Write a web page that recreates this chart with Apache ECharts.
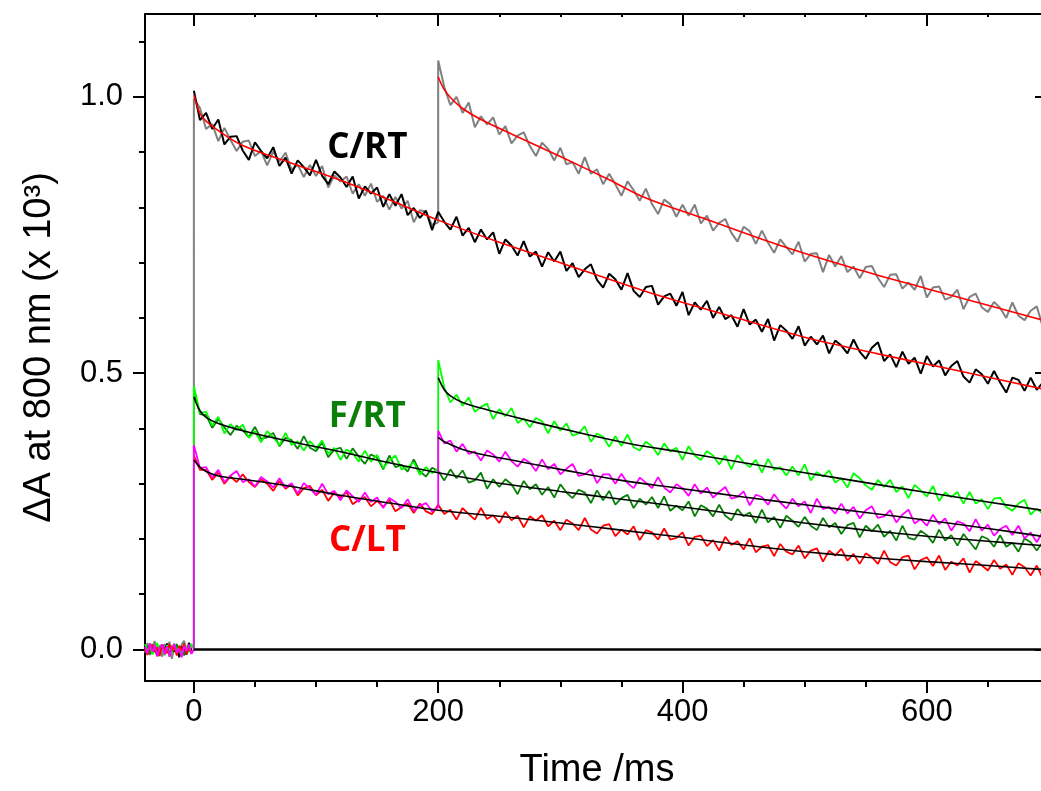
<!DOCTYPE html>
<html><head><meta charset="utf-8">
<script src="https://cdn.jsdelivr.net/npm/echarts@6/dist/echarts.min.js"></script>
<style>html,body{margin:0;padding:0;background:#fff}#chart{width:1041px;height:791px}</style>
</head><body><div id="chart"></div>
<script>
// sampling times (ms)
const time5 = [0,5,10,15,20,25,30,35,40,45,50,55,60,65,70,75,80,85,90,95,100,105,110,115,120,125,130,135,140,145,150,155,160,165,170,175,180,185,190,195,200,205,210,215,220,225,230,235,240,245,250,255,260,265,270,275,280,285,290,295,300,305,310,315,320,325,330,335,340,345,350,355,360,365,370,375,380,385,390,395,400,405,410,415,420,425,430,435,440,445,450,455,460,465,470,475,480,485,490,495,500,505,510,515,520,525,530,535,540,545,550,555,560,565,570,575,580,585,590,595,600,605,610,615,620,625,630,635,640,645,650,655,660,665,670,675,680,685,690,695,700];
const baseTime = [-40,-38,-36,-34,-32,-30,-28,-26,-24,-22,-20,-18,-16,-14,-12,-10,-8,-6,-4,-2];

// pre-flash baselines
const blackBase = [0.004,-0.008,0.010,-0.003,0.006,-0.012,0.002,0.009,-0.006,0.011,-0.010,0.003,-0.004,0.008,-0.014,0.005,0.001,-0.009,0.012,-0.002];
const grayBase = [-0.006,0.012,-0.010,0.004,0.015,-0.008,0.007,-0.013,0.010,-0.002,0.014,-0.017,0.006,0.003,-0.011,0.009,0.016,-0.005,0.008,-0.007];
const lgreenBase = [0.010,-0.004,0.007,-0.009,0.003,0.012,-0.006,0.005,-0.011,0.008,0.002,-0.007,0.011,-0.003,0.006,-0.010,0.009,0.004,-0.005,0.010];
const dgreenBase = [-0.003,0.006,-0.008,0.009,-0.001,-0.010,0.005,0.008,-0.006,0.002,-0.009,0.007,-0.002,0.010,-0.007,0.003,-0.011,0.006,0.001,-0.004];
const redBase = [0.002,-0.010,0.006,0.009,-0.005,0.004,-0.012,0.008,0.001,-0.007,0.010,-0.003,0.005,-0.011,0.007,-0.002,0.011,-0.008,0.003,-0.006];
const magentaBase = [0.005,-0.007,0.011,-0.004,0.008,-0.012,0.003,0.009,-0.009,0.006,-0.013,0.004,0.010,-0.006,0.002,-0.014,0.007,-0.003,0.009,-0.008];

// C/RT, single flash (black), 0..700 ms
const blackTrace = [1.011,0.958,0.971,0.942,0.959,0.914,0.928,0.929,0.903,0.886,
0.918,0.902,0.889,0.909,0.875,0.890,0.861,0.885,0.873,0.858,
0.886,0.857,0.842,0.865,0.854,0.837,0.856,0.816,0.838,0.825,
0.836,0.801,0.824,0.803,0.824,0.786,0.799,0.781,0.794,0.759,
0.792,0.774,0.760,0.783,0.749,0.763,0.737,0.760,0.742,0.755,
0.716,0.742,0.731,0.713,0.739,0.711,0.720,0.693,0.719,0.702,
0.720,0.685,0.699,0.674,0.688,0.697,0.669,0.655,0.680,0.670,
0.651,0.681,0.649,0.638,0.656,0.658,0.624,0.639,0.644,0.622,
0.647,0.605,0.628,0.615,0.631,0.600,0.620,0.598,0.605,0.584,
0.616,0.588,0.597,0.575,0.598,0.559,0.587,0.577,0.562,0.585,
0.550,0.566,0.552,0.568,0.536,0.559,0.550,0.536,0.561,0.539,
0.526,0.546,0.556,0.522,0.534,0.511,0.539,0.517,0.528,0.499,
0.531,0.512,0.523,0.496,0.513,0.522,0.494,0.483,0.507,0.498,
0.481,0.504,0.483,0.465,0.492,0.488,0.468,0.492,0.470,0.483,
0.454];
// C/RT, double flash (gray): 0..200 and 200..700 ms
const grayTrace1 = [0.997,0.980,0.942,0.951,0.920,0.944,0.922,0.902,0.919,0.921,
0.893,0.902,0.876,0.901,0.883,0.899,0.868,0.877,0.855,0.877,
0.857,0.875,0.836,0.858,0.847,0.856,0.825,0.842,0.821,0.843,
0.810,0.821,0.796,0.819,0.798,0.812,0.773,0.795,0.792,0.768,
0.773];
const grayTrace2 = [1.066,1.018,0.985,1.000,0.971,0.990,0.945,0.965,0.950,0.963,
0.932,0.947,0.916,0.930,0.936,0.911,0.893,0.917,0.906,0.885,
0.908,0.878,0.882,0.861,0.891,0.861,0.869,0.842,0.861,0.842,
0.821,0.847,0.831,0.812,0.834,0.806,0.788,0.814,0.806,0.783,
0.805,0.785,0.805,0.771,0.785,0.758,0.772,0.779,0.754,0.738,
0.765,0.757,0.734,0.758,0.736,0.718,0.742,0.728,0.715,0.738,
0.702,0.716,0.717,0.683,0.714,0.693,0.712,0.683,0.693,0.672,
0.692,0.694,0.672,0.656,0.678,0.679,0.653,0.664,0.651,0.676,
0.637,0.655,0.657,0.633,0.638,0.651,0.616,0.638,0.644,0.619,
0.611,0.629,0.618,0.600,0.628,0.604,0.596,0.613,0.621,0.583,
0.596];
// F/RT double flash (light green)
const lgreenTrace1 = [0.477,0.428,0.430,0.405,0.421,0.391,0.408,0.397,0.407,0.383,
0.395,0.375,0.395,0.384,0.370,0.392,0.370,0.377,0.360,0.377,
0.364,0.378,0.354,0.365,0.343,0.362,0.355,0.340,0.360,0.340,
0.352,0.328,0.342,0.351,0.326,0.330,0.339,0.316,0.330,0.319,
0.328];
const lgreenTrace2 = [0.524,0.474,0.447,0.461,0.441,0.456,0.430,0.439,0.445,0.417,
0.435,0.422,0.437,0.410,0.418,0.402,0.419,0.413,0.391,0.413,
0.396,0.409,0.387,0.391,0.404,0.376,0.391,0.385,0.367,0.386,
0.368,0.389,0.366,0.360,0.376,0.368,0.352,0.373,0.358,0.365,
0.343,0.368,0.351,0.343,0.359,0.351,0.335,0.351,0.326,0.352,
0.339,0.330,0.343,0.320,0.345,0.325,0.330,0.315,0.331,0.315,
0.335,0.306,0.321,0.313,0.324,0.302,0.310,0.293,0.319,0.310,
0.297,0.289,0.307,0.294,0.307,0.285,0.295,0.274,0.298,0.288,
0.277,0.296,0.269,0.284,0.276,0.285,0.264,0.285,0.264,0.272,
0.254,0.273,0.275,0.258,0.251,0.264,0.271,0.244,0.255,0.245,
0.260];
// F/RT single flash (dark green)
const dgreenTrace = [0.467,0.426,0.424,0.401,0.417,0.402,0.388,0.405,0.397,0.384,
0.403,0.381,0.384,0.392,0.368,0.383,0.379,0.363,0.386,0.365,
0.359,0.375,0.348,0.362,0.365,0.345,0.364,0.349,0.336,0.353,
0.347,0.326,0.351,0.330,0.334,0.322,0.344,0.322,0.313,0.329,
0.323,0.306,0.326,0.310,0.324,0.302,0.306,0.320,0.291,0.308,
0.294,0.308,0.299,0.281,0.305,0.290,0.299,0.280,0.294,0.275,
0.299,0.284,0.274,0.289,0.284,0.265,0.288,0.270,0.287,0.262,
0.274,0.280,0.256,0.273,0.262,0.276,0.256,0.277,0.251,0.260,
0.252,0.268,0.241,0.261,0.255,0.241,0.262,0.242,0.234,0.254,
0.241,0.248,0.229,0.253,0.230,0.240,0.220,0.242,0.233,0.222,
0.240,0.224,0.216,0.238,0.221,0.229,0.209,0.225,0.229,0.203,
0.224,0.214,0.226,0.204,0.215,0.197,0.224,0.202,0.199,0.215,
0.207,0.193,0.217,0.197,0.207,0.188,0.209,0.195,0.181,0.205,
0.200,0.186,0.207,0.186,0.193,0.177,0.201,0.194,0.179,0.195,
0.181];
// C/LT double flash (magenta)
const magentaTrace1 = [0.370,0.328,0.330,0.311,0.325,0.303,0.315,0.323,0.303,0.308,
0.295,0.312,0.304,0.293,0.310,0.293,0.301,0.282,0.301,0.291,
0.280,0.300,0.281,0.287,0.270,0.288,0.277,0.267,0.284,0.267,
0.275,0.256,0.274,0.267,0.256,0.272,0.251,0.260,0.265,0.250,
0.258];
const magentaTrace2 = [0.396,0.373,0.378,0.358,0.372,0.354,0.358,0.342,0.360,0.353,
0.340,0.358,0.341,0.331,0.345,0.338,0.323,0.344,0.326,0.336,
0.317,0.327,0.336,0.314,0.317,0.326,0.301,0.317,0.317,0.300,
0.318,0.301,0.292,0.311,0.302,0.292,0.312,0.293,0.284,0.299,
0.292,0.278,0.299,0.282,0.293,0.275,0.285,0.294,0.273,0.276,
0.286,0.261,0.280,0.276,0.262,0.281,0.266,0.255,0.273,0.259,
0.268,0.247,0.273,0.254,0.258,0.246,0.264,0.246,0.258,0.237,
0.252,0.259,0.238,0.241,0.252,0.230,0.244,0.253,0.228,0.236,
0.224,0.244,0.227,0.237,0.215,0.232,0.228,0.214,0.236,0.215,
0.226,0.206,0.218,0.224,0.207,0.224,0.201,0.212,0.194,0.214,
0.200];
// C/LT single flash (red)
const redTrace = [0.351,0.325,0.325,0.307,0.320,0.300,0.313,0.303,0.317,0.303,
0.294,0.308,0.300,0.287,0.305,0.291,0.299,0.279,0.292,0.296,
0.279,0.289,0.269,0.284,0.275,0.285,0.263,0.271,0.276,0.259,
0.269,0.258,0.271,0.250,0.258,0.264,0.247,0.264,0.250,0.245,
0.262,0.245,0.253,0.235,0.256,0.245,0.235,0.256,0.236,0.243,
0.229,0.249,0.234,0.242,0.221,0.241,0.233,0.243,0.223,0.233,
0.216,0.235,0.228,0.216,0.238,0.217,0.210,0.224,0.227,0.205,
0.217,0.208,0.223,0.198,0.216,0.212,0.199,0.219,0.199,0.202,
0.212,0.188,0.204,0.206,0.187,0.198,0.179,0.204,0.189,0.196,
0.181,0.201,0.176,0.186,0.189,0.169,0.191,0.177,0.172,0.188,
0.165,0.179,0.183,0.159,0.179,0.170,0.182,0.161,0.173,0.155,
0.174,0.167,0.155,0.179,0.158,0.152,0.167,0.170,0.145,0.162,
0.167,0.151,0.170,0.144,0.159,0.152,0.165,0.139,0.160,0.152,
0.143,0.162,0.146,0.154,0.135,0.156,0.149,0.134,0.152,0.128,
0.149];

// fitted curves [time, value]
const fitCRT = [[0,1.003],[5,0.970],[10,0.956],[20,0.939],[40,0.912],[80,0.880],[120,0.849],[160,0.814],[200,0.777],[250,0.737],[300,0.700],[370,0.648],[440,0.603],[500,0.565],[560,0.535],[620,0.507],[700,0.469]];
const fitCRT2 = [[200,1.036],[205,1.013],[210,0.999],[220,0.979],[235,0.959],[260,0.933],[300,0.892],[340,0.850],[370,0.817],[420,0.778],[480,0.731],[540,0.690],[600,0.653],[650,0.623],[700,0.593]];
const fitFRT = [[0,0.457],[5,0.432],[10,0.420],[20,0.409],[40,0.396],[80,0.376],[120,0.358],[160,0.338],[200,0.320],[250,0.301],[300,0.286],[350,0.272],[400,0.258],[450,0.243],[500,0.229],[550,0.216],[600,0.205],[650,0.196],[700,0.187]];
const fitFRT2 = [[200,0.492],[205,0.470],[210,0.459],[220,0.447],[240,0.434],[280,0.411],[320,0.390],[360,0.371],[400,0.357],[450,0.338],[500,0.320],[550,0.302],[600,0.284],[650,0.267],[700,0.250]];
const fitCLT = [[0,0.343],[5,0.330],[10,0.322],[20,0.314],[40,0.308],[80,0.295],[120,0.279],[160,0.265],[200,0.252],[250,0.241],[300,0.229],[350,0.216],[400,0.203],[450,0.189],[500,0.177],[550,0.167],[600,0.159],[650,0.152],[700,0.144]];
const fitCLT2 = [[200,0.384],[205,0.376],[210,0.371],[220,0.362],[240,0.351],[260,0.343],[300,0.326],[350,0.306],[400,0.291],[450,0.276],[500,0.262],[550,0.248],[600,0.234],[650,0.219],[700,0.203]];
const zeroLine = [[0,0],[700,0]];

// labels and ticks
const annotations = [
  {text:'C/RT', t:142, v:0.907, color:'#000000'},
  {text:'F/RT', t:142, v:0.421, color:'#0a7f0a'},
  {text:'C/LT', t:142, v:0.196, color:'#ff0000'}
];
const xMajor = [0,200,400,600];
const xMinor = [50,100,150,250,300,350,450,500,550,650,700];
const yMajor = [0,0.5,1.0];
const yMinor = [0.1,0.2,0.3,0.4,0.6,0.7,0.8,0.9,1.1];
const X_MIN = -40, X_MAX = 700, Y_MIN = -0.057, Y_MAX = 1.15;

function pts(times, vals){ return vals.map((v,i)=>[times[i], v]); }
const t1 = time5.slice(0,41), t2 = time5.slice(40);
const BREAK = [[-1, null]];

const grayData = pts(baseTime, grayBase).concat([[0,0]], pts(t1, grayTrace1), pts(t2, grayTrace2));
const blackData = pts(baseTime, blackBase).concat(BREAK, pts(time5, blackTrace));
const dgreenData = pts(baseTime, dgreenBase).concat(BREAK, pts(time5, dgreenTrace));
const lgreenData = pts(baseTime, lgreenBase).concat([[0,0]], pts(t1, lgreenTrace1), pts(t2, lgreenTrace2));
const redData = pts(baseTime, redBase).concat(BREAK, pts(time5, redTrace));
const magentaData = pts(baseTime, magentaBase).concat([[0,0]], pts(t1, magentaTrace1), pts(t2, magentaTrace2));

function trace(data, color, z, w){
  return {type:'line', data, symbol:'none', showSymbol:false, silent:true, animation:false,
    connectNulls:false, lineStyle:{color, width:w}, z};
}
function fit(data, color){
  return {type:'line', data, symbol:'none', showSymbol:false, silent:true, animation:false,
    smooth:0.35, lineStyle:{color, width:1.6}, z:10};
}

const FONT = '"Liberation Sans", Arial, sans-serif';
const blank = {show:false};
function decoX(pos, ticks, len, inside, line){
  return {type:'value', min:X_MIN, max:X_MAX, position:pos,
    axisLine:{show:line, onZero:false, lineStyle:{color:'#000', width:2}},
    axisTick:{show:true, inside, length:len, customValues:ticks, lineStyle:{color:'#000', width:2}},
    axisLabel:blank, splitLine:blank};
}
function decoY(pos, ticks, len, inside, line){
  return {type:'value', min:Y_MIN, max:Y_MAX, position:pos,
    axisLine:{show:line, onZero:false, lineStyle:{color:'#000', width:2}},
    axisTick:{show:true, inside, length:len, customValues:ticks, lineStyle:{color:'#000', width:2}},
    axisLabel:blank, splitLine:blank};
}

const chart = echarts.init(document.getElementById('chart'), null, {renderer:'canvas'});
chart.setOption({
  backgroundColor:'#ffffff',
  animation:false,
  grid:{left:145, right:-8, top:14, bottom:110, containLabel:false, outerBoundsMode:'none'},
  xAxis:[
    {type:'value', min:X_MIN, max:X_MAX, position:'bottom',
     axisLine:{show:true, onZero:false, lineStyle:{color:'#000', width:2}},
     axisTick:{show:true, inside:false, length:12, customValues:xMajor, lineStyle:{color:'#000', width:2}},
     axisLabel:{show:true, customValues:xMajor, fontSize:31, color:'#000', fontFamily:FONT, margin:16},
     splitLine:blank,
     name:'Time /ms', nameLocation:'middle', nameGap:71,
     nameTextStyle:{fontSize:38, color:'#000', fontFamily:FONT}},
    decoX('bottom', xMinor, 6, false, false),
    decoX('top', xMajor, 12, true, true),
    decoX('top', xMinor, 3, true, false)
  ],
  yAxis:[
    {type:'value', min:Y_MIN, max:Y_MAX, position:'left',
     axisLine:{show:true, onZero:false, lineStyle:{color:'#000', width:2}},
     axisTick:{show:true, inside:false, length:12, customValues:yMajor, lineStyle:{color:'#000', width:2}},
     axisLabel:{show:true, customValues:yMajor, fontSize:31, color:'#000', fontFamily:FONT, margin:22,
       formatter:v=>v.toFixed(1)},
     splitLine:blank,
     name:'\u0394A at 800 nm (x 10\u00B3)', nameLocation:'middle', nameGap:86,
     nameTextStyle:{fontSize:38, color:'#000', fontFamily:FONT}},
    decoY('left', yMinor, 6, false, false),
    decoY('right', yMajor, 14, true, true)
  ],
  series:[
    trace(grayData, '#808080', 2, 2),
    trace(blackData, '#000000', 3, 2),
    trace(dgreenData, '#0a7f0a', 4, 1.8),
    trace(lgreenData, '#00ff00', 5, 1.8),
    trace(redData, '#ff0000', 6, 1.8),
    trace(magentaData, '#ff00ff', 7, 1.8),
    fit(fitCRT, '#ff0000'),
    fit(fitCRT2, '#ff0000'),
    fit(fitFRT, '#000000'),
    fit(fitFRT2, '#000000'),
    fit(fitCLT, '#000000'),
    fit(fitCLT2, '#000000'),
    {type:'line', data:zeroLine, symbol:'none', silent:true, animation:false,
     lineStyle:{color:'#000', width:2.5}, z:11},
    {type:'scatter', symbolSize:0, silent:true, animation:false, z:12,
     itemStyle:{opacity:1},
     data:annotations.map(a=>({name:a.text, value:[a.t, a.v],
       label:{show:true, position:'inside', formatter:a.text, color:a.color, opacity:1,
         fontSize:35, fontWeight:'bold', fontFamily:'"Open Sans", "Noto Sans", sans-serif'}}))}
  ]
});
</script></body></html>
